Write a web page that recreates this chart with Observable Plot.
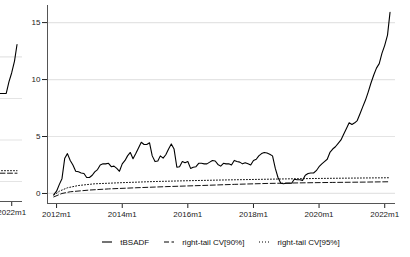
<!DOCTYPE html>
<html><head><meta charset="utf-8">
<script src="https://cdn.jsdelivr.net/npm/d3@7"></script>
<script src="https://cdn.jsdelivr.net/npm/@observablehq/plot@0.6"></script>
<style>
body{margin:0;background:#fff;}
#wrap{position:relative;width:410px;height:257px;overflow:hidden;background:#fff;font-family:"Liberation Sans",Arial,sans-serif;}
#left,#main{position:absolute;top:0;}
#left{left:-373px;}
#main{left:0;}
#legend{position:absolute;left:47px;width:348px;top:236px;height:12px;display:flex;justify-content:center;align-items:center;font-size:8px;color:#111;white-space:nowrap;}
.item{display:flex;align-items:center;margin:0 7.5px;}
.item svg{margin-right:8px;}
</style></head>
<body><div id="wrap"><div id="left"></div><div id="main"></div><div id="legend"></div></div>
<script>
// ---------- data ----------
const seriesNames = ["tBSADF", "right-tail CV[90%]", "right-tail CV[95%]"];
const xTickLabels = ["2012m1","2014m1","2016m1","2018m1","2020m1","2022m1"];
const yTicks = [0, 5, 10, 15];

// tBSADF, monthly from 2011m12 to 2022m3
const tbsadfStart = "2011-12";
const tbsadf = [
  -0.1,
  0.2, 0.8, 1.3, 3.1, 3.5, 2.9, 2.5, 1.95, 1.9, 1.8, 1.75, 1.4,
  1.4, 1.6, 1.9, 2.1, 2.5, 2.6, 2.6, 2.65, 2.35, 2.4, 2.2, 1.95,
  2.6, 2.9, 3.3, 3.6, 3.05, 3.5, 4.0, 4.5, 4.3, 4.3, 4.45, 3.3,
  2.8, 2.85, 3.3, 3.1, 3.4, 3.9, 4.35, 3.9, 2.3, 2.35, 2.8, 2.7,
  2.8, 2.2, 2.3, 2.35, 2.65, 2.65, 2.6, 2.6, 2.75, 2.9, 2.85, 2.55,
  2.4, 2.65, 2.6, 2.6, 2.5, 2.9, 2.8, 2.75, 2.6, 2.7, 2.6, 2.5,
  2.9, 3.0, 3.3, 3.5, 3.6, 3.55, 3.45, 3.3, 2.2, 1.4, 0.9, 0.85,
  0.9, 0.9, 0.9, 1.25, 1.2, 1.2, 1.15, 1.6, 1.75, 1.8, 1.8, 2.0,
  2.35, 2.6, 2.8, 3.0, 3.6, 3.9, 4.1, 4.4, 4.7, 5.2, 5.7, 6.2,
  6.05, 6.2, 6.4, 7.0, 7.6, 8.2, 8.9, 9.7, 10.4, 11.0, 11.4, 12.3,
  13.0, 13.9, 15.9
];

// critical value sequences (read at these dates)
const cv90Dates = ["2011-12","2012-03","2012-06","2013-01","2013-08","2014-06","2015-05","2016-06","2017-06","2018-06","2019-06","2020-06","2021-06","2022-03"];
const cv90 =      [-0.3, 0.0, 0.15, 0.3, 0.4, 0.5, 0.6, 0.7, 0.8, 0.88, 0.93, 0.97, 1.0, 1.03];
const cv95Dates = ["2011-12","2012-02","2012-05","2012-09","2013-03","2014-01","2015-01","2016-01","2017-01","2018-01","2019-01","2020-01","2021-01","2022-03"];
const cv95 =      [-0.15, 0.2, 0.5, 0.7, 0.85, 0.95, 1.05, 1.12, 1.18, 1.23, 1.28, 1.32, 1.35, 1.38];

// neighbouring (cropped) panel on the left edge
const leftTickLabels = ["2022m1"];
const leftDates = ["2021-06","2021-07","2021-08","2021-09","2021-10","2021-11","2021-12","2022-01","2022-02","2022-03"];
const leftValues = [10.6, 10.6, 10.6, 10.6, 10.6, 10.6, 12.0, 13.1, 14.5, 16.5];
const leftCvDates = ["2021-06","2022-03"];
const leftCv90 = [1.0, 1.0];
const leftCv95 = [1.3, 1.3];

// ---------- helpers ----------
const parseYM = s => new Date(Date.UTC(+s.slice(0,4), +s.slice(5,7) - 1, 1));
const parseTick = s => new Date(Date.UTC(+s.slice(0,4), +s.slice(s.indexOf("m")+1) - 1, 1));
const fmt = d => `${d.getUTCFullYear()}m${d.getUTCMonth()+1}`;
const xDomain = [new Date(Date.UTC(2011, 8, 22)), new Date(Date.UTC(2022, 4, 1))];

const start = parseYM(tbsadfStart);
const mainData = tbsadf.map((v, i) => ({date: d3.utcMonth.offset(start, i), value: v}));
const cv90Data = cv90Dates.map((d, i) => ({date: parseYM(d), value: cv90[i]}));
const cv95Data = cv95Dates.map((d, i) => ({date: parseYM(d), value: cv95[i]}));

const leftData = leftDates.map((d, i) => ({date: parseYM(d), value: leftValues[i]}));
const leftCv90Data = leftCvDates.map((d, i) => ({date: parseYM(d), value: leftCv90[i]}));
const leftCv95Data = leftCvDates.map((d, i) => ({date: parseYM(d), value: leftCv95[i]}));

const style = {fontFamily: "'Liberation Sans', Arial, sans-serif", fontSize: "8px", color: "#222", background: "transparent", overflow: "visible"};
const dash = "5,2.5", dot = "1,2";

function panel(opts) {
  const {yDomain, marginBottom, line, c90, c95, ticks, showY} = opts;
  return Plot.plot({
    width: 410, height: 222,
    marginLeft: 47, marginRight: 15, marginTop: 5, marginBottom,
    style,
    x: {type: "utc", domain: xDomain, ticks: ticks.map(parseTick), tickFormat: fmt, tickSize: 5, tickPadding: 3, label: null},
    y: showY ? {domain: yDomain, ticks: yTicks, tickSize: 5, tickPadding: 2, label: null}
             : {domain: yDomain, axis: null},
    marks: [
      Plot.ruleY(yTicks, {stroke: "#e4e4e4", strokeWidth: 1.2}),
      Plot.lineY(c90, {x: "date", y: "value", stroke: "#111", strokeWidth: 1, strokeDasharray: dash}),
      Plot.lineY(c95, {x: "date", y: "value", stroke: "#111", strokeWidth: 1, strokeDasharray: dot}),
      Plot.lineY(line, {x: "date", y: "value", stroke: "#000", strokeWidth: 1.1}),
      Plot.ruleX([xDomain[0]], {stroke: "#555", strokeWidth: 1}),
      Plot.ruleY([yDomain[0]], {stroke: "#555", strokeWidth: 1})
    ]
  });
}

document.getElementById("main").appendChild(panel({
  yDomain: [-0.88, 16.5], marginBottom: 19, line: mainData, c90: cv90Data, c95: cv95Data,
  ticks: xTickLabels, showY: true
}));
document.getElementById("left").appendChild(panel({
  yDomain: [-2.41, 21.2], marginBottom: 21, line: leftData, c90: leftCv90Data, c95: leftCv95Data,
  ticks: leftTickLabels, showY: false
}));

// ---------- legend ----------
const legend = document.getElementById("legend");
const dashes = [null, dash, dot];
seriesNames.forEach((name, i) => {
  const item = document.createElement("div");
  item.className = "item";
  const svg = d3.create("svg").attr("width", 10).attr("height", 4);
  svg.append("line").attr("x1", 0).attr("x2", 10).attr("y1", 2).attr("y2", 2)
    .attr("stroke", "#000").attr("stroke-width", i === 0 ? 1.1 : 1)
    .attr("stroke-dasharray", dashes[i]);
  item.appendChild(svg.node());
  const t = document.createElement("span");
  t.textContent = name;
  item.appendChild(t);
  legend.appendChild(item);
});
</script>
</body></html>
